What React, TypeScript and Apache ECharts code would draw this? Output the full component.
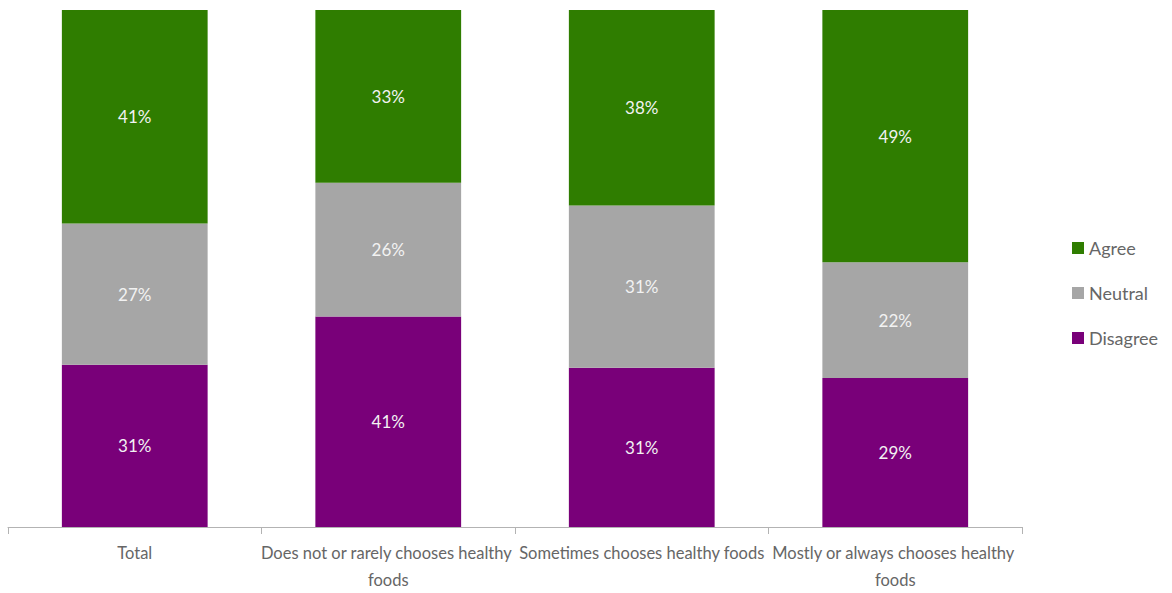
import React, { useEffect, useRef } from "react";
import * as echarts from "echarts";

const categories = [
  "Total",
  "Does not or rarely chooses healthy foods",
  "Sometimes chooses healthy foods",
  "Mostly or always chooses healthy foods",
];
const disagree = [31.4, 40.7, 30.8, 28.8];
const neutral = [27.3, 25.9, 31.4, 22.4];
const agree = [41.3, 33.4, 37.8, 48.8];

const FONT = "Lato, 'Open Sans', sans-serif";

export default function App() {
  const ref = useRef<HTMLDivElement>(null);
  useEffect(() => {
    const chart = echarts.init(ref.current!, undefined, { renderer: "svg" });
    const label = {
      show: true,
      position: "inside" as const,
      color: "#f2f2f2",
      fontSize: 17,
      fontFamily: FONT,
      formatter: (p: any) => Math.round(p.value) + "%",
    };
    chart.setOption({
      animation: false,
      grid: { left: 8, right: 150, top: 10, bottom: 65 },
      legend: {
        orient: "vertical",
        left: 1067,
        top: 234,
        itemWidth: 12,
        itemHeight: 12,
        itemGap: 27,
        icon: "rect",
        data: ["Agree", "Neutral", "Disagree"],
        textStyle: { color: "#666", fontSize: 18, fontFamily: FONT },
      },
      xAxis: {
        type: "category",
        data: categories,
        axisLine: { lineStyle: { color: "#b3b3b3" } },
        axisTick: { show: true, length: 7, lineStyle: { color: "#b3b3b3" } },
        axisLabel: {
          interval: 0,
          color: "#666",
          fontSize: 16.5,
          fontFamily: FONT,
          width: 258,
          overflow: "break",
          lineHeight: 27,
          margin: 12,
        },
      },
      yAxis: { type: "value", min: 0, max: 100, show: false, splitLine: { show: false } },
      series: [
        { name: "Disagree", type: "bar", stack: "s", data: disagree, barWidth: "57.5%", itemStyle: { color: "#790079" }, label },
        { name: "Neutral", type: "bar", stack: "s", data: neutral, itemStyle: { color: "#a6a6a6" }, label },
        { name: "Agree", type: "bar", stack: "s", data: agree, itemStyle: { color: "#2f7d00" }, label },
      ],
    });
    return () => chart.dispose();
  }, []);
  return <div ref={ref} style={{ position: "absolute", left: 0, top: 0, width: 1172, height: 593 }} />;
}
